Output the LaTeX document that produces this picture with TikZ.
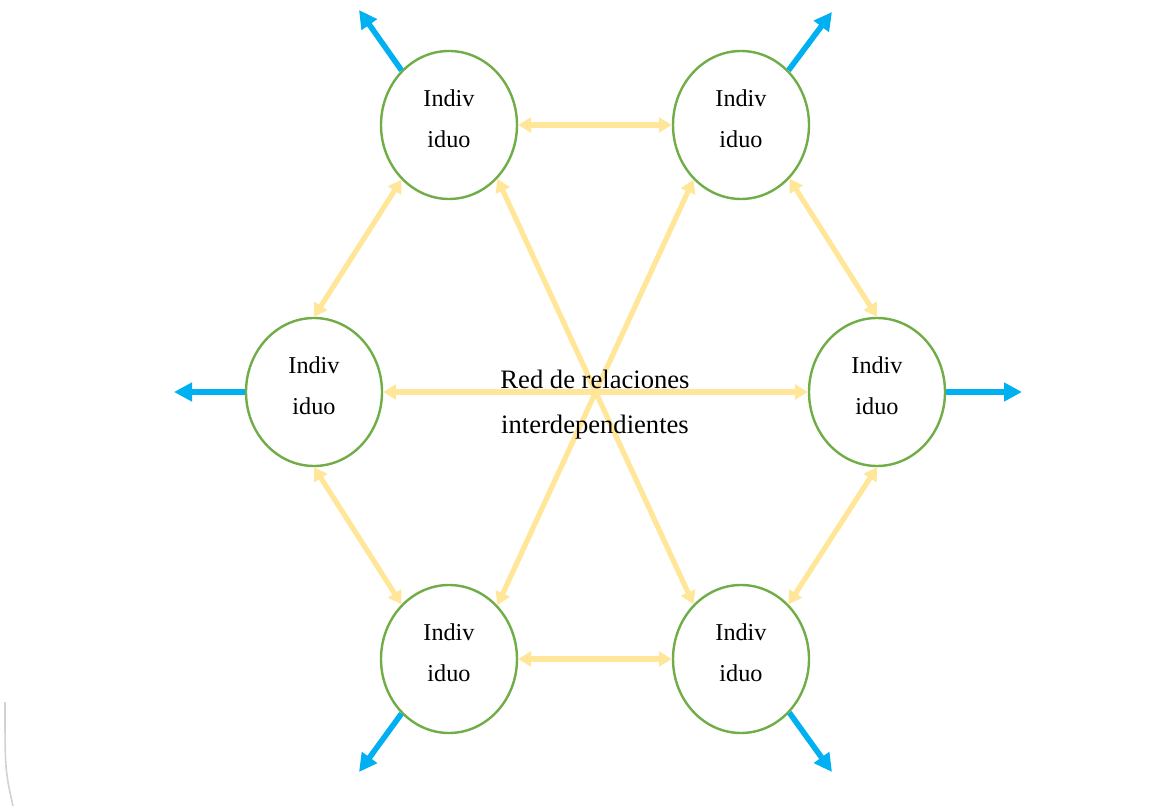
\documentclass[tikz,border=0pt]{standalone}
\usepackage{fontspec}
\setmainfont{Liberation Serif}
\usetikzlibrary{shapes.geometric,arrows.meta}
\definecolor{indgreen}{HTML}{70AD47}
\definecolor{linkgold}{HTML}{FFE699}
\definecolor{outblue}{HTML}{00B0F0}
\tikzset{
  indiv/.style={ellipse,draw=indgreen,line width=1.2pt,fill=white,
    minimum width=68pt,minimum height=74pt,inner sep=0pt,align=center,
    text depth=6pt,font=\fontsize{12.1}{20.5}\selectfont},
  link/.style={draw=linkgold,line width=2.6pt,
    {Triangle[length=6.5pt,width=7.5pt]}-{Triangle[length=6.5pt,width=7.5pt]}},
  outward/.style={draw=outblue,line width=2.8pt,-{Triangle[length=9pt,width=9pt]}}
}
\begin{document}
\begin{tikzpicture}[x=0.5pt,y=-0.5pt]
\useasboundingbox (0,0) rectangle (1172,806);
\node[indiv] (tl) at (449,125) {Indiv\\iduo};
\node[indiv] (tr) at (741,125) {Indiv\\iduo};
\node[indiv] (ml) at (314,392) {Indiv\\iduo};
\node[indiv] (mr) at (877,392) {Indiv\\iduo};
\node[indiv] (bl) at (449,659) {Indiv\\iduo};
\node[indiv] (br) at (741,659) {Indiv\\iduo};
\coordinate (tlout) at (359,10);
\coordinate (trout) at (832,12);
\coordinate (mlout) at (174,392);
\coordinate (mrout) at (1022,392);
\coordinate (blout) at (359,772);
\coordinate (brout) at (832,772);
% links between the individuals
\draw[link] (tl) -- (tr);
\draw[link] (bl) -- (br);
\draw[link] (ml) -- (mr);
\draw[link] (tl.229) -- (ml.north);
\draw[link] (tr.312) -- (mr.north);
\draw[link] (ml.south) -- (bl.131);
\draw[link] (mr.south) -- (br.49);
\draw[link] (tl.312) -- (br.131);
\draw[link] (tr.229) -- (bl.48);
\node[align=center,font=\fontsize{13.3}{22.5}\selectfont] (red) at (595,404.5)
  {Red de relaciones\\interdependientes};
% outward arrows
\draw[outward] (tl.131) -- (tlout);
\draw[outward] (tr.49) -- (trout);
\draw[outward] (ml.west) -- (mlout);
\draw[outward] (mr.east) -- (mrout);
\draw[outward] (bl.229) -- (blout);
\draw[outward] (br.312) -- (brout);
\draw[gray!35,line width=0.8pt] (5,702) .. controls (5,770) .. (13,806);
\end{tikzpicture}
\end{document}
